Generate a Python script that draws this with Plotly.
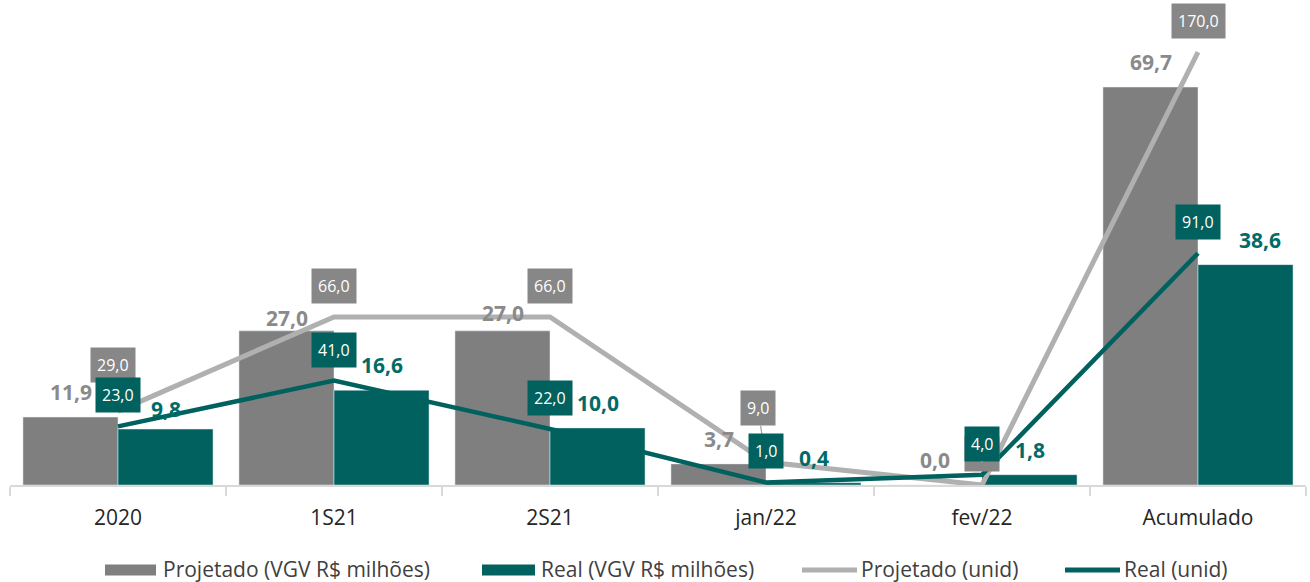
import plotly.graph_objects as go

categories = ["2020", "1S21", "2S21", "jan/22", "fev/22", "Acumulado"]
proj_vgv = [11.9, 27.0, 27.0, 3.7, 0.0, 69.7]
real_vgv = [9.8, 16.6, 10.0, 0.4, 1.8, 38.6]
proj_unid = [29.0, 66.0, 66.0, 9.0, 0.0, 170.0]
real_unid = [23.0, 41.0, 22.0, 1.0, 4.0, 91.0]
series_names = ["Projetado (VGV R$ milhões)", "Real (VGV R$ milhões)",
                "Projetado (unid)", "Real (unid)"]

GRAY_BAR = "#7f7f7f"
TEAL = "#00615f"
GRAY_LINE = "#b0b0b0"
GRAY_TXT = "#8a8a8a"
TEAL_TXT = "#006b68"
BOX_GRAY = "#878787"
FONT = "Open Sans"

W, H = 1310, 582
ML, MR, MT, MB = 10, 4, 10, 97
PW, PH = W - ML - MR, H - MT - MB

def px_x(px):
    return (px - ML) / PW

def px_y(py):
    return (H - MB - py) / PH

def fmt(v):
    return f"{v:.1f}".replace(".", ",")

fig = go.Figure()
fig.add_trace(go.Bar(x=categories, y=proj_vgv, name=series_names[0],
                     marker_color=GRAY_BAR, yaxis="y", showlegend=False))
fig.add_trace(go.Bar(x=categories, y=real_vgv, name=series_names[1],
                     marker_color=TEAL, yaxis="y", showlegend=False))
fig.add_trace(go.Scatter(x=categories, y=proj_unid, name=series_names[2],
                         mode="lines", line=dict(color=GRAY_LINE, width=5), yaxis="y2",
                         showlegend=False))
fig.add_trace(go.Scatter(x=categories, y=real_unid, name=series_names[3],
                         mode="lines", line=dict(color=TEAL, width=4.5), yaxis="y2",
                         showlegend=False))

ann = []
# label nudges (pixel offsets) for collision-avoided labels
bar_nudge = {("p", 1): (0, -12), ("p", 2): (0, -7), ("r", 0): (0, -5), ("r", 5): (14, 0)}
for i, c in enumerate(categories):
    dx, dy = bar_nudge.get(("p", i), (0, 0))
    ann.append(dict(x=i, y=proj_vgv[i], yref="y", xref="x", text=fmt(proj_vgv[i]),
                    showarrow=False, xshift=-47.5 + dx, yshift=25 + dy,
                    font=dict(family=FONT, size=21, color=GRAY_TXT, weight="bold")))
for i, c in enumerate(categories):
    dx, dy = bar_nudge.get(("r", i), (0, 0))
    ann.append(dict(x=i, y=real_vgv[i], yref="y", xref="x", text=fmt(real_vgv[i]),
                    showarrow=False, xshift=47.5 + dx, yshift=25 + dy,
                    font=dict(family=FONT, size=21, color=TEAL_TXT, weight="bold")))

line_nudge = {0: (-5, -15)}
for i, c in enumerate(categories):
    if i == 3:
        ann.append(dict(x=i, y=proj_unid[i], yref="y2", xref="x", text=fmt(proj_unid[i]),
                        showarrow=True, arrowhead=0, arrowwidth=1.2, arrowcolor="#a0a0a0",
                        ax=-8, ay=-54, standoff=0,
                        bgcolor=BOX_GRAY, borderpad=6,
                        font=dict(family=FONT, size=16, color="white")))
        continue
    dx, dy = line_nudge.get(i, (0, 0))
    ann.append(dict(x=i, y=proj_unid[i], yref="y2", xref="x", text=fmt(proj_unid[i]),
                    showarrow=False, xshift=dx, yshift=31 - dy,
                    bgcolor=BOX_GRAY, borderpad=6,
                    font=dict(family=FONT, size=16, color="white")))
for i, c in enumerate(categories):
    ann.append(dict(x=i, y=real_unid[i], yref="y2", xref="x", text=fmt(real_unid[i]),
                    showarrow=False, yshift=31,
                    bgcolor=TEAL, borderpad=6,
                    font=dict(family=FONT, size=16, color="white")))

# custom legend (wide bar swatches like the original)
shapes = []
leg_y = 570
swatches = [("rect", GRAY_BAR, 105, 156), ("rect", TEAL, 482, 535),
            ("line", GRAY_LINE, 802, 857), ("line", TEAL, 1065, 1120)]
text_x = [161, 539, 859, 1122]
for (kind, col, x0, x1), tx, name in zip(swatches, text_x, series_names):
    if kind == "rect":
        shapes.append(dict(type="rect", xref="paper", yref="paper",
                           x0=px_x(x0), x1=px_x(x1), y0=px_y(leg_y - 5.5), y1=px_y(leg_y + 5.5),
                           fillcolor=col, line=dict(width=0)))
    else:
        shapes.append(dict(type="line", xref="paper", yref="paper",
                           x0=px_x(x0), x1=px_x(x1), y0=px_y(leg_y), y1=px_y(leg_y),
                           line=dict(color=col, width=5)))
    ann.append(dict(x=px_x(tx), y=px_y(leg_y - 1), xref="paper", yref="paper",
                    text=name, showarrow=False, xanchor="left", yanchor="middle",
                    font=dict(family=FONT, size=21, color="#404040")))

fig.update_layout(
    width=W, height=H,
    margin=dict(l=ML, r=MR, t=MT, b=MB, autoexpand=False),
    paper_bgcolor="white", plot_bgcolor="white",
    barmode="group", bargap=0.12, bargroupgap=0,
    font=dict(family=FONT, color="#404040"),
    showlegend=False,
    xaxis=dict(type="category", range=[-0.5, len(categories) - 0.5],
               showgrid=False, showline=True, linecolor="#d9d9d9",
               linewidth=2, ticks="outside", tickson="boundaries", ticklen=9,
               tickcolor="#d9d9d9", tickwidth=2, ticklabelstandoff=13,
               tickfont=dict(family=FONT, size=21, color="#262626")),
    yaxis=dict(range=[0, 83.2], visible=False, showgrid=False, zeroline=False),
    yaxis2=dict(range=[0, 186.5], visible=False, overlaying="y", showgrid=False, zeroline=False),
    annotations=ann,
    shapes=shapes,
)

fig.write_html("out.html")
